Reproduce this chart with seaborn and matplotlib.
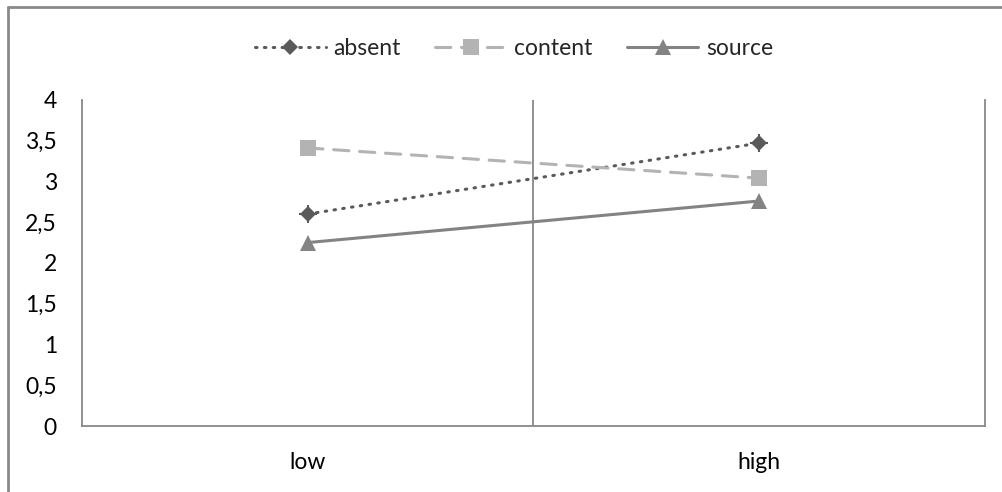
import matplotlib
matplotlib.use("Agg")
import matplotlib.pyplot as plt
from matplotlib.lines import Line2D
from matplotlib.ticker import FuncFormatter
import seaborn as sns
import pandas as pd

# Category labels and mean ratings per condition
levels = ["low", "high"]
absent = [2.60, 3.47]
content = [3.41, 3.04]
source = [2.25, 2.76]

series_names = ["absent", "content", "source"]
series_values = [absent, content, source]

rows = []
for name, vals in zip(series_names, series_values):
    for i, (lvl, v) in enumerate(zip(levels, vals)):
        rows.append({"level": lvl, "pos": i, "value": v, "series": name})
df = pd.DataFrame(rows)

sns.set_theme(style="white")
plt.rcParams["font.family"] = ["Lato", "DejaVu Sans"]

FS = 16.5

fig = plt.figure(figsize=(10.02, 4.92), dpi=100)
ax = fig.add_axes([0.0818, 0.134, 0.9012, 0.663])

colors = {"absent": "#5a5a5a", "content": "#b3b3b3", "source": "#838383"}
dashes = {"absent": (0.5, 2.4), "content": (5, 3.5), "source": ""}
markers = {"absent": "D", "content": "s", "source": "^"}

sns.lineplot(data=df, x="pos", y="value", hue="series", style="series",
             palette=colors, dashes=dashes, markers=markers, markersize=11,
             markeredgewidth=0, linewidth=2.2, ax=ax, legend=False)

for line in ax.get_lines():
    line.set_dash_capstyle("round")
    line.set_solid_capstyle("butt")
    if line.get_marker() == "D":
        line.set_markersize(8)

# cross-hairs on the "absent" diamonds
ax.plot(range(len(levels)), absent, linestyle="none", marker="+",
        markersize=13, markeredgewidth=1.5, color=colors["absent"])

ax.set_xlim(-0.5, 1.5)
ax.set_ylim(0, 4)
ax.set_xticks(range(len(levels)))
ax.set_xticklabels(levels)
ax.set_yticks([0, 0.5, 1, 1.5, 2, 2.5, 3, 3.5, 4])
ax.yaxis.set_major_formatter(FuncFormatter(
    lambda v, _: (f"{v:g}").replace(".", ",")))
ax.set_xlabel("")
ax.set_ylabel("")
ax.tick_params(axis="both", length=0, labelsize=FS, colors="#000000")
ax.tick_params(axis="x", pad=19)
ax.tick_params(axis="y", pad=18)

axis_color = "#888888"
for side in ["left", "bottom", "right"]:
    ax.spines[side].set_visible(True)
    ax.spines[side].set_color(axis_color)
    ax.spines[side].set_linewidth(1.3)
ax.spines["top"].set_visible(False)
ax.axvline(0.5, color=axis_color, linewidth=1.3, zorder=0)

# legend
handles = []
for name in series_names:
    h = Line2D([], [], color=colors[name], linewidth=2.2,
               marker=markers[name],
               markersize=8 if name == "absent" else 11,
               markeredgewidth=0,
               dashes=dashes[name] if dashes[name] else (None, None),
               dash_capstyle="round")
    handles.append(h)
fig.legend(handles, series_names, loc="center", ncol=3,
           bbox_to_anchor=(0.513, 0.902), frameon=False, fontsize=FS,
           handlelength=3.1, handletextpad=0.35, columnspacing=1.5)

# chart-area frame
frame_color = "#8a8a8a"
fig.add_artist(Line2D([0.008, 1.0], [0.986, 0.986], transform=fig.transFigure,
                      color=frame_color, linewidth=2.0))
fig.add_artist(Line2D([0.008, 0.008], [0.0, 0.986], transform=fig.transFigure,
                      color=frame_color, linewidth=2.0))

fig.savefig("out.png", dpi=100, facecolor="white")
